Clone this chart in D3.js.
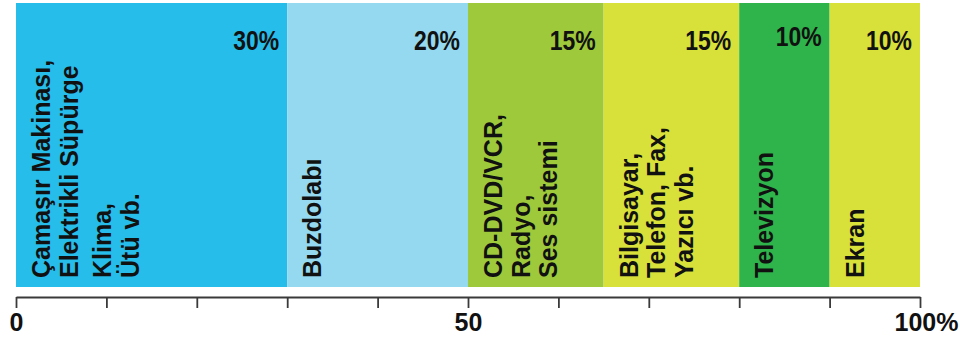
<!DOCTYPE html>
<html>
<head>
<meta charset="utf-8">
<script src="https://cdn.jsdelivr.net/npm/d3@7"></script>
<style>
  html, body { margin: 0; padding: 0; background: #ffffff; }
  svg { display: block; }
  text { font-family: "Liberation Sans", Arial, Helvetica, sans-serif; font-weight: bold; fill: #111; }
</style>
</head>
<body>
<svg id="chart" width="960" height="345"></svg>
<script>
// ---- data ----
const categories = ["Çamaşır Makinası, Elektrikli Süpürge, Klima, Ütü vb.", "Buzdolabı", "CD-DVD/VCR, Radyo, Ses sistemi", "Bilgisayar, Telefon, Fax, Yazıcı vb.", "Televizyon", "Ekran"];
const labelLines = [
  [["Çamaşır Makinası,", "Elektrikli Süpürge"], ["Klima,", "Ütü vb."]],
  [["Buzdolabı"]],
  [["CD-DVD/VCR,", "Radyo,", "Ses sistemi"]],
  [["Bilgisayar,", "Telefon, Fax,", "Yazıcı vb."]],
  [["Televizyon"]],
  [["Ekran"]]
];
const values = [30, 20, 15, 15, 10, 10];
const tickValues = [0, 10, 20, 30, 40, 50, 60, 70, 80, 90, 100];
const tickLabels = { 0: "0", 50: "50", 100: "100%" };

// ---- style ----
const palette = ["#27bdeb", "#94d9ef", "#9dc93b", "#d8e03a", "#2fb34b", "#d8e03a"];

const svg = d3.select("#chart");
const x = d3.scaleLinear().domain([0, 100]).range([16, 920]);
const y = d3.scaleBand().domain(["all"]).range([3, 287]).padding(0);

const ends = Array.from(d3.cumsum(values));
const segs = values.map((v, i) => ({
  name: categories[i], value: v, lines: labelLines[i],
  x0: ends[i] - v, x1: ends[i], color: palette[i]
}));

// bars
svg.append("g").selectAll("rect").data(segs).join("rect")
  .attr("x", d => x(d.x0))
  .attr("y", y("all"))
  .attr("width", d => x(d.x1) - x(d.x0))
  .attr("height", y.bandwidth())
  .attr("fill", d => d.color);

// percentage labels
svg.append("g").selectAll("text").data(segs).join("text")
  .attr("transform", (d, i) => `translate(${x(d.x1) - 8},${i === 4 ? 46 : 50}) scale(0.85,1)`)
  .attr("text-anchor", "end")
  .style("font-size", "27px")
  .text(d => d.value + "%");

// rotated category labels
const pitch = 27.5, paraGap = 6;
const lab = svg.append("g").selectAll("g").data(segs).join("g");
lab.each(function(d) {
  const g = d3.select(this);
  let bx = x(d.x0) + 34;
  d.lines.forEach((para, pi) => {
    if (pi > 0) bx += paraGap;
    para.forEach((line) => {
      g.append("text")
        .attr("transform", `translate(${bx},278) rotate(-90)`)
        .attr("text-anchor", "start")
        .style("font-size", "25px")
        .text(line);
      bx += pitch;
    });
  });
});

// axis
const axis = d3.axisBottom(x)
  .tickValues(tickValues)
  .tickSize(11)
  .tickSizeOuter(0)
  .tickPadding(5)
  .tickFormat(v => tickLabels[v] || "");

const ax = svg.append("g").attr("transform", "translate(0,297)").call(axis);
ax.select(".domain").attr("stroke", "#3a3a3a").attr("stroke-width", 2);
ax.selectAll(".tick line").attr("stroke", "#3a3a3a").attr("stroke-width", 1.8);
ax.selectAll(".tick text")
  .attr("fill", "#111")
  .attr("dx", v => v === 100 ? 6 : 0)
  .style("font-family", "'Liberation Sans', Arial, sans-serif")
  .style("font-weight", "bold")
  .style("font-size", "25px");
</script>
</body>
</html>
